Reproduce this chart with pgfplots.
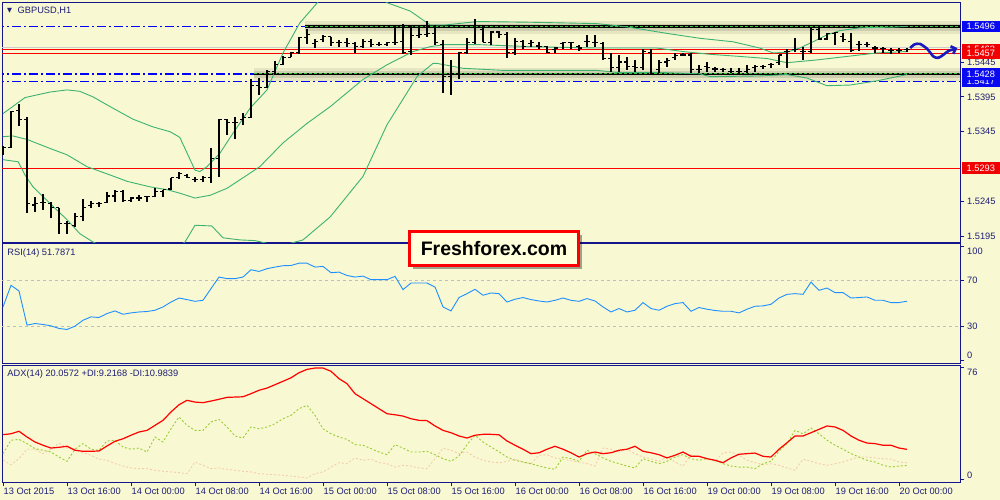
\documentclass[border=0pt]{standalone}
\usepackage{pgfplots}
\pgfplotsset{compat=1.18}
\usepackage{pgfplotstable}
\usepackage{fontspec}
\setmainfont{Liberation Sans}
\newfontfamily\dejavu{DejaVu Sans}
\usetikzlibrary{shadows,arrows.meta}

\definecolor{bg}{RGB}{248,248,210}
\definecolor{frame}{RGB}{20,20,140}
\definecolor{labtxt}{RGB}{30,30,120}
\definecolor{bband}{RGB}{60,179,113}
\definecolor{rsiblue}{RGB}{30,144,255}
\definecolor{plusdi}{RGB}{154,205,50}
\definecolor{minusdi}{RGB}{245,205,170}
\definecolor{lvlblue}{RGB}{0,0,255}
\definecolor{lvlred}{RGB}{255,0,0}
\definecolor{dashgreen}{RGB}{50,205,50}
\definecolor{wave}{RGB}{25,25,190}
\definecolor{boxfill}{RGB}{255,255,220}
\definecolor{pblue}{RGB}{10,10,240}
\definecolor{pred}{RGB}{240,0,0}

\newcommand\mtfont{\fontsize{9.3}{11}\selectfont}

% GBPUSD H1 bars: index, open, high, low, close
\pgfplotstableread{
i o h l c
0 1.5323 1.5325 1.5312 1.5323
1 1.5323 1.5375 1.5322 1.5374
2 1.5375 1.5385 1.5353 1.5363
3 1.5363 1.5366 1.5229 1.5242
4 1.5240 1.5252 1.5230 1.5242
5 1.5244 1.5256 1.5233 1.5243
6 1.5242 1.5244 1.5221 1.5237
7 1.5236 1.5236 1.5199 1.5214
8 1.5214 1.5217 1.5199 1.5214
9 1.5211 1.5229 1.5209 1.5223
10 1.5223 1.5249 1.5217 1.5237
11 1.5239 1.5246 1.5236 1.5242
12 1.5242 1.5244 1.5237 1.5242
13 1.5243 1.5259 1.5243 1.5253
14 1.5253 1.5262 1.5244 1.5260
15 1.5260 1.5262 1.5244 1.5246
16 1.5247 1.5252 1.5244 1.5250
17 1.5250 1.5255 1.5246 1.5250
18 1.5252 1.5253 1.5244 1.5252
19 1.5252 1.5264 1.5252 1.5260
20 1.5260 1.5262 1.5252 1.5262
21 1.5263 1.5279 1.5262 1.5279
22 1.5280 1.5288 1.5277 1.5285
23 1.5282 1.5285 1.5279 1.5280
24 1.5277 1.5280 1.5273 1.5276
25 1.5277 1.5282 1.5273 1.5279
26 1.5279 1.5322 1.5272 1.5307
27 1.5307 1.5363 1.5280 1.5363
28 1.5362 1.5363 1.5341 1.5358
29 1.5358 1.5366 1.5335 1.5358
30 1.5362 1.5372 1.5355 1.5365
31 1.5366 1.5420 1.5365 1.5411
32 1.5411 1.5422 1.5398 1.5408
33 1.5408 1.5434 1.5408 1.5431
34 1.5431 1.5447 1.5427 1.5441
35 1.5441 1.5454 1.5440 1.5451
36 1.5452 1.5460 1.5452 1.5458
37 1.5458 1.5481 1.5457 1.5480
38 1.5480 1.5493 1.5471 1.5484
39 1.5471 1.5478 1.5465 1.5475
40 1.5477 1.5483 1.5473 1.5481
41 1.5481 1.5481 1.5468 1.5473
42 1.5473 1.5477 1.5467 1.5473
43 1.5473 1.5480 1.5467 1.5471
44 1.5471 1.5474 1.5458 1.5467
45 1.5467 1.5478 1.5465 1.5474
46 1.5474 1.5478 1.5467 1.5470
47 1.5470 1.5473 1.5468 1.5470
48 1.5470 1.5474 1.5468 1.5473
49 1.5473 1.5496 1.5470 1.5473
50 1.5474 1.5500 1.5457 1.5458
51 1.5460 1.5496 1.5455 1.5483
52 1.5483 1.5498 1.5480 1.5484
53 1.5484 1.5504 1.5481 1.5486
54 1.5486 1.5498 1.5470 1.5473
55 1.5470 1.5477 1.5401 1.5424
56 1.5424 1.5448 1.5398 1.5429
57 1.5429 1.5460 1.5420 1.5458
58 1.5458 1.5480 1.5457 1.5473
59 1.5473 1.5507 1.5471 1.5494
60 1.5491 1.5496 1.5473 1.5473
61 1.5473 1.5490 1.5470 1.5488
62 1.5488 1.5490 1.5480 1.5484
63 1.5484 1.5488 1.5451 1.5458
64 1.5458 1.5480 1.5455 1.5474
65 1.5474 1.5477 1.5463 1.5467
66 1.5471 1.5477 1.5467 1.5473
67 1.5468 1.5473 1.5464 1.5467
68 1.5467 1.5468 1.5458 1.5458
69 1.5463 1.5467 1.5458 1.5465
70 1.5471 1.5474 1.5463 1.5473
71 1.5473 1.5473 1.5464 1.5473
72 1.5467 1.5470 1.5461 1.5465
73 1.5474 1.5483 1.5467 1.5474
74 1.5473 1.5484 1.5467 1.5473
75 1.5471 1.5473 1.5448 1.5450
76 1.5450 1.5458 1.5431 1.5437
77 1.5437 1.5455 1.5431 1.5445
78 1.5445 1.5452 1.5434 1.5438
79 1.5438 1.5448 1.5431 1.5437
80 1.5437 1.5463 1.5434 1.5460
81 1.5458 1.5463 1.5428 1.5429
82 1.5434 1.5448 1.5429 1.5444
83 1.5445 1.5451 1.5438 1.5447
84 1.5452 1.5458 1.5448 1.5454
85 1.5455 1.5458 1.5454 1.5455
86 1.5455 1.5458 1.5429 1.5434
87 1.5434 1.5441 1.5429 1.5434
88 1.5438 1.5445 1.5431 1.5437
89 1.5435 1.5438 1.5431 1.5435
90 1.5434 1.5437 1.5431 1.5434
91 1.5432 1.5437 1.5429 1.5432
92 1.5431 1.5437 1.5427 1.5431
93 1.5432 1.5440 1.5429 1.5434
94 1.5437 1.5440 1.5431 1.5438
95 1.5438 1.5441 1.5435 1.5438
96 1.5441 1.5444 1.5437 1.5441
97 1.5444 1.5455 1.5441 1.5455
98 1.5460 1.5464 1.5437 1.5460
99 1.5463 1.5480 1.5460 1.5463
100 1.5460 1.5467 1.5448 1.5460
101 1.5460 1.5494 1.5458 1.5491
102 1.5491 1.5496 1.5477 1.5478
103 1.5478 1.5487 1.5477 1.5486
104 1.5486 1.5488 1.5470 1.5487
105 1.5481 1.5487 1.5473 1.5477
106 1.5474 1.5487 1.5460 1.5461
107 1.5470 1.5475 1.5461 1.5470
108 1.5470 1.5473 1.5467 1.5470
109 1.5465 1.5468 1.5458 1.5465
110 1.5464 1.5467 1.5458 1.5464
111 1.5461 1.5465 1.5457 1.5461
112 1.5461 1.5465 1.5458 1.5461
113 1.5463 1.5465 1.5460 1.5463
}\ohlc

\pgfplotsset{
  mt/.style={
    scale only axis, width=958bp,
    xmin=-0.125, xmax=119.625,
    axis line style={draw=frame, line width=1bp},
    ytick pos=right, yticklabel pos=right,
    tick align=outside, major tick length=4bp,
    tick style={draw=frame, line width=0.8bp},
    ticklabel style={font=\mtfont, text=labtxt},
    yticklabel style={anchor=west, inner sep=0pt, xshift=3bp},
    xtick=\empty,
  },
  dashdot/.style={lvlblue, line width=1.3bp, dash pattern=on 9bp off 3bp on 2bp off 3bp},
  ohlcbar/.style={draw=none, mark=none, error bars/error mark=none,
    error bars/error bar style={draw=black, solid, line width=1.1bp}},
}

\begin{document}
\begin{tikzpicture}
\fill[bg] (0,0) rectangle (1000bp,-500bp);

% ---------- price panel ----------
\begin{axis}[mt, at={(2bp,-2bp)}, anchor=north west, height=240bp,
  ymin=1.5187, ymax=1.5531,
  ytick={1.5195,1.5245,1.5345,1.5395,1.5445},
  yticklabels={1.5195,1.5245,1.5345,1.5395,1.5445}]
  % levels
  \addplot[dashdot] coordinates {(-1,1.5496) (121,1.5496)};
  \addplot[dashdot] coordinates {(-1,1.5428) (121,1.5428)};
  \addplot[dashdot] coordinates {(-1,1.5417) (121,1.5417)};
  \addplot[black!20, line width=1.5bp] coordinates {(-1,1.5466) (121,1.5466)};
  \addplot[lvlred, line width=1bp] coordinates {(-1,1.5463) (121,1.5463)};
  \addplot[lvlred, line width=1bp] coordinates {(-1,1.5457) (121,1.5457)};
  \addplot[lvlred, line width=1bp] coordinates {(-1,1.5293) (121,1.5293)};
  % channel lines with shadow
  \addplot[black, opacity=0.07, line width=13bp] coordinates {(37.75,1.54945) (121,1.54945)};
  \addplot[black, opacity=0.10, line width=7bp] coordinates {(37.75,1.54950) (121,1.54950)};
  \addplot[black, line width=2.5bp] coordinates {(37.75,1.5496) (121,1.5496)};
  \addplot[dashgreen, line width=1.2bp, dash pattern=on 3bp off 2bp] coordinates {(37.75,1.5496) (121,1.5496)};
  \addplot[black, opacity=0.07, line width=13bp] coordinates {(31.4,1.54265) (121,1.54265)};
  \addplot[black, opacity=0.10, line width=7bp] coordinates {(31.4,1.54270) (121,1.54270)};
  \addplot[black, line width=2.5bp] coordinates {(31.4,1.5428) (121,1.5428)};
  \addplot[dashgreen, line width=1.2bp, dash pattern=on 3bp off 2bp] coordinates {(31.4,1.5428) (121,1.5428)};
  % Bollinger bands
  \addplot[bband, line width=0.9bp] coordinates {(0,1.5371)(2.75,1.5394)(5.9,1.5402)(8,1.5405)(9.6,1.5403)(11.25,1.5395)(13.4,1.5381)(16.25,1.5363)(18.75,1.5352)(20.9,1.5345)(22.1,1.5337)(24,1.5290)(24.6,1.5288)(25.5,1.5295)(27.1,1.5314)(28.75,1.5343)(30.9,1.5379)(33,1.5405)(35,1.5458)(37.1,1.5501)(39.6,1.5534)(41.5,1.5556)(43.4,1.5563)(45.5,1.5552)(48,1.5530)(50.9,1.5518)(53.4,1.5498)(55.25,1.5498)(59.25,1.5503)(65.9,1.5502)(74.25,1.5500)(76.75,1.5497)(78.75,1.5494)(83,1.5486)(87.1,1.5479)(91.25,1.5474)(94.6,1.5465)(96.25,1.5458)(98,1.5459)(99.6,1.5465)(101.25,1.5474)(103,1.5484)(104.6,1.5490)(107.1,1.5494)(111.25,1.5495)(113,1.5496)};
  \addplot[bband, line width=0.9bp] coordinates {(0,1.5338)(1.25,1.5339)(3,1.5334)(5.9,1.5321)(8,1.5312)(10.5,1.5295)(13.4,1.5283)(15.5,1.5274)(18.4,1.5266)(20.5,1.5262)(22.1,1.5257)(24,1.5250)(25.9,1.5254)(28,1.5264)(29.6,1.5276)(32.1,1.5295)(35,1.5329)(38,1.5357)(40.9,1.5381)(45,1.5420)(48,1.5441)(51.25,1.5460)(53.4,1.5467)(55.25,1.5470)(59.25,1.5470)(65.9,1.5467)(70,1.5466)(74.6,1.5465)(81.75,1.5465)(85,1.5460)(88.4,1.5456)(92.1,1.5453)(95.5,1.5450)(98,1.5444)(101.75,1.5448)(106.25,1.5454)(109.25,1.5458)(113,1.5460)};
  \addplot[bband, line width=0.9bp] coordinates {(0,1.5305)(1.9,1.5302)(2.75,1.5283)(3.75,1.5266)(5.9,1.5242)(8,1.5219)(9.6,1.5199)(11.25,1.5187)(13.4,1.5176)(17.1,1.5164)(20.9,1.5173)(22.75,1.5187)(24,1.5211)(26.1,1.5210)(27.5,1.5193)(29.6,1.5190)(31.5,1.5189)(34.6,1.5181)(37.5,1.5190)(40.9,1.5223)(45,1.5281)(48,1.5355)(51.75,1.5424)(53.75,1.5443)(54.25,1.5443)(57.5,1.5436)(62.5,1.5433)(74.25,1.5433)(76.75,1.5430)(82.1,1.5430)(87.1,1.5428)(88.4,1.5424)(94.6,1.5425)(98,1.5427)(100.5,1.5422)(103,1.5411)(105.9,1.5412)(109.25,1.5418)(113,1.5427)};
  % OHLC bars: high-low, open tick (left), close tick (right)
  \addplot[ohlcbar, error bars/.cd, y dir=plus, y explicit]
    table[x=i, y=l, y error expr=\thisrow{h}-\thisrow{l}] {\ohlc};
  \addplot[ohlcbar, error bars/.cd, x dir=minus, x fixed=0.375]
    table[x=i, y=o] {\ohlc};
  \addplot[ohlcbar, error bars/.cd, x dir=plus, x fixed=0.375]
    table[x=i, y=c] {\ohlc};
  % hand-drawn forecast wave
  \addplot[wave, line width=2.6bp, smooth, -{Straight Barb[length=4bp,width=8bp]}] coordinates {(113.4,1.5465)(113.9,1.5470)(114.6,1.5471)(115.5,1.5464)(116.3,1.5453)(116.9,1.5451)(117.5,1.5455)(118.2,1.5461)(118.8,1.5463)(119.3,1.5465)};
  \coordinate (p5496) at (axis cs:119.625,1.5496);
  \coordinate (p5463) at (axis cs:119.625,1.5463);
  \coordinate (p5457) at (axis cs:119.625,1.5457);
  \coordinate (p5428) at (axis cs:119.625,1.5428);
  \coordinate (p5417) at (axis cs:119.625,1.5417);
  \coordinate (p5293) at (axis cs:119.625,1.5293);
\end{axis}

% ---------- RSI panel ----------
\begin{axis}[mt, at={(2bp,-243.5bp)}, anchor=north west, height=119.5bp,
  ymin=-2.17, ymax=102.2, ytick={0,30,70,100}, yticklabels={{},30,70,{}}]
  \addplot[black!25, line width=0.8bp, dash pattern=on 3bp off 3bp] coordinates {(-1,70) (121,70)};
  \addplot[black!25, line width=0.8bp, dash pattern=on 3bp off 3bp] coordinates {(-1,30) (121,30)};
  \addplot[rsiblue, line width=0.9bp] coordinates {(0,46.8)(1,65.7)(2,60.7)(3,30.9)(4,32.3)(5,31.5)(6,30.3)(7,28.0)(8,27.1)(9,30.0)(10,35.2)(11,38.1)(12,37.6)(13,41.0)(14,43.3)(15,40.4)(16,41.6)(17,42.4)(18,42.8)(19,43.9)(20,46.8)(21,51.1)(22,54.6)(23,53.2)(24,51.7)(25,52.6)(26,62.8)(27,72.9)(28,71.5)(29,71.5)(30,72.9)(31,79.3)(32,77.8)(33,80.2)(34,81.6)(35,82.8)(36,83.0)(37,85.0)(38,85.0)(39,81.6)(40,82.2)(41,76.7)(42,77.2)(43,74.3)(44,72.9)(45,73.7)(46,70.6)(47,70.6)(48,70.6)(49,73.5)(50,61.9)(51,67.7)(52,67.7)(53,67.7)(54,64.2)(55,46.8)(56,43.3)(57,55.0)(58,58.4)(59,62.2)(60,57.0)(61,59.0)(62,58.4)(63,51.1)(64,53.5)(65,55.0)(66,53.2)(67,52.0)(68,51.1)(69,52.6)(70,54.6)(71,52.6)(72,51.7)(73,54.1)(74,52.0)(75,46.8)(76,42.4)(77,45.4)(78,42.4)(79,43.9)(80,50.6)(81,45.4)(82,43.9)(83,47.4)(84,49.7)(85,50.6)(86,43.0)(87,46.3)(88,44.8)(89,43.7)(90,43.0)(91,43.0)(92,41.6)(93,44.8)(94,47.4)(95,47.7)(96,49.1)(97,54.6)(98,57.8)(99,58.4)(100,57.8)(101,68.5)(102,61.3)(103,63.3)(104,59.3)(105,59.3)(106,54.6)(107,55.0)(108,55.5)(109,52.6)(110,52.6)(111,50.6)(112,50.6)(113,51.8)};
  \coordinate (r100) at (axis cs:119.625,100);
  \coordinate (r0) at (axis cs:119.625,0);
\end{axis}

% ---------- ADX panel ----------
\begin{axis}[mt, at={(2bp,-365bp)}, anchor=north west, height=117bp,
  ymin=-2.04, ymax=77.36, ytick={0,76}, yticklabels={{},{}},
  xtick={0,8,...,112}, xtick pos=bottom, xticklabel pos=bottom,
  xticklabels={13 Oct 2015,13 Oct 16:00,14 Oct 00:00,14 Oct 08:00,14 Oct 16:00,15 Oct 00:00,15 Oct 08:00,15 Oct 16:00,16 Oct 00:00,16 Oct 08:00,16 Oct 16:00,19 Oct 00:00,19 Oct 08:00,19 Oct 16:00,20 Oct 00:00},
  xticklabel style={anchor=north west, inner sep=0pt, xshift=0.5bp, yshift=-1.5bp}]
  \addplot[minusdi, line width=0.9bp, dash pattern=on 2bp off 2bp] coordinates {(0,12.7)(1,9.7)(2,13.8)(3,20.2)(4,20.2)(5,17.2)(6,20.2)(7,24.4)(8,21.0)(9,20.2)(10,17.8)(11,16.1)(12,13.4)(13,12.7)(14,10.4)(15,8.8)(16,7.5)(17,7.0)(18,7.0)(19,5.9)(20,5.2)(21,4.8)(22,4.3)(23,3.6)(24,11.5)(25,9.3)(26,7.0)(27,7.5)(28,6.6)(29,5.9)(30,5.2)(31,4.8)(32,3.6)(33,3.2)(34,2.9)(35,2.5)(36,2.0)(37,1.4)(38,0.7)(39,3.6)(40,4.8)(41,8.1)(42,11.1)(43,10.4)(44,14.3)(45,12.7)(46,13.4)(47,11.1)(48,10.4)(49,8.1)(50,9.3)(51,8.8)(52,7.5)(53,7.0)(54,13.8)(55,21.0)(56,19.5)(57,17.2)(58,18.3)(59,14.9)(60,12.7)(61,11.5)(62,11.0)(63,12.0)(64,13.4)(65,11.5)(66,10.4)(67,16.1)(68,16.5)(69,14.3)(70,13.4)(71,12.4)(72,11.5)(73,10.4)(74,8.8)(75,21.0)(76,20.2)(77,18.3)(78,20.2)(79,17.2)(80,14.9)(81,13.8)(82,12.0)(83,14.9)(84,11.5)(85,8.8)(86,16.5)(87,14.9)(88,13.8)(89,12.0)(90,17.8)(91,18.3)(92,16.1)(93,12.7)(94,11.1)(95,9.7)(96,10.4)(97,9.3)(98,7.5)(99,5.9)(100,13.4)(101,12.0)(102,10.4)(103,9.3)(104,10.4)(105,11.5)(106,13.4)(107,14.9)(108,14.9)(109,14.3)(110,13.8)(111,13.4)(112,11.5)(113,11.0)};
  \addplot[plusdi, line width=0.9bp, dash pattern=on 2bp off 2bp] coordinates {(0,17.2)(1,26.3)(2,26.9)(3,24.0)(4,20.6)(5,19.5)(6,18.3)(7,14.9)(8,12.0)(9,20.2)(10,24.0)(11,20.2)(12,19.5)(13,25.8)(14,26.3)(15,21.7)(16,20.2)(17,21.0)(18,18.3)(19,28.5)(20,25.1)(21,34.1)(22,42.1)(23,36.4)(24,33.0)(25,33.0)(26,38.7)(27,40.5)(28,35.3)(29,29.2)(30,27.8)(31,35.3)(32,34.1)(33,35.3)(34,37.5)(35,40.9)(36,43.2)(37,47.7)(38,50.0)(39,43.2)(40,34.1)(41,30.7)(42,28.5)(43,26.9)(44,23.3)(45,22.9)(46,20.6)(47,18.3)(48,16.5)(49,23.3)(50,21.0)(51,18.3)(52,18.3)(53,18.8)(54,16.5)(55,13.8)(56,12.0)(57,15.6)(58,23.3)(59,29.7)(60,25.1)(61,21.7)(62,18.5)(63,14.9)(64,12.7)(65,11.5)(66,10.4)(67,8.8)(68,7.5)(69,6.6)(70,14.9)(71,13.8)(72,12.0)(73,19.5)(74,17.2)(75,14.3)(76,12.0)(77,10.4)(78,8.8)(79,7.5)(80,13.8)(81,12.0)(82,10.4)(83,12.0)(84,14.9)(85,16.5)(86,13.8)(87,12.7)(88,13.8)(89,12.7)(90,10.4)(91,8.8)(92,8.1)(93,8.1)(94,7.0)(95,10.4)(96,12.0)(97,18.8)(98,24.0)(99,33.0)(100,30.7)(101,34.6)(102,30.7)(103,26.3)(104,22.9)(105,20.2)(106,17.2)(107,14.9)(108,12.7)(109,11.5)(110,9.3)(111,8.1)(112,8.8)(113,9.2)};
  \addplot[lvlred, line width=1.2bp] coordinates {(0,30.1)(1,30.7)(2,32.4)(3,28.5)(4,25.1)(5,22.9)(6,21.0)(7,21.5)(8,22.2)(9,19.5)(10,18.8)(11,18.8)(12,19.0)(13,22.4)(14,25.6)(15,27.3)(16,29.7)(17,31.9)(18,33.0)(19,36.4)(20,39.8)(21,45.5)(22,50.4)(23,53.4)(24,52.2)(25,51.8)(26,52.9)(27,54.1)(28,55.4)(29,55.6)(30,55.8)(31,57.9)(32,60.2)(33,61.7)(34,64.0)(35,66.3)(36,68.7)(37,72.1)(38,74.4)(39,75.3)(40,75.3)(41,73.1)(42,68.1)(43,64.7)(44,57.9)(45,54.5)(46,51.1)(47,47.7)(48,44.3)(49,43.6)(50,42.7)(51,40.9)(52,39.8)(53,39.6)(54,36.0)(55,33.0)(56,31.4)(57,29.2)(58,27.8)(59,29.7)(60,30.3)(61,30.3)(62,30.0)(63,25.8)(64,22.9)(65,20.2)(66,17.2)(67,17.8)(68,20.2)(69,22.2)(70,20.2)(71,17.8)(72,14.9)(73,17.2)(74,18.3)(75,17.2)(76,17.8)(77,19.5)(78,20.2)(79,22.2)(80,18.8)(81,17.8)(82,16.5)(83,14.3)(84,16.1)(85,18.3)(86,15.4)(87,15.4)(88,13.8)(89,12.7)(90,11.1)(91,14.3)(92,16.8)(93,17.2)(94,17.6)(95,15.4)(96,14.9)(97,20.2)(98,24.6)(99,29.2)(100,29.2)(101,31.4)(102,33.7)(103,36.0)(104,35.3)(105,33.0)(106,29.2)(107,26.3)(108,24.4)(109,24.0)(110,22.9)(111,22.9)(112,21.0)(113,20.1)};
  \coordinate (a76) at (axis cs:119.625,76);
  \coordinate (a0) at (axis cs:119.625,0);
\end{axis}

% ---------- texts ----------
\tikzset{ttl/.style={anchor=west, inner sep=0pt, font=\mtfont, text=labtxt},
  pbox/.style={anchor=west, xshift=1.5bp, inner xsep=5bp, inner ysep=0pt, minimum height=11.5bp,
    text height=6.7bp, text depth=0pt, text=white, font=\mtfont}}
\node[inner sep=0pt, text=labtxt, font=\dejavu\fontsize{6.5}{7}\selectfont] at (9.5bp,-11bp) {▼};
\node[ttl] at (17.5bp,-10.7bp) {GBPUSD,H1};
\node[ttl] at (7.3bp,-252.7bp) {RSI(14) 51.7871};
\node[ttl] at (7.3bp,-373.7bp) {ADX(14) 20.0572 +DI:9.2168 -DI:10.9839};
\node[ttl, xshift=7bp, yshift=-5.2bp] at (r100) {100};
\node[ttl, xshift=7bp, yshift=4.8bp] at (r0) {0};
\node[ttl, xshift=7bp, yshift=-5bp] at (a76) {76};
\node[ttl, xshift=7bp, yshift=3.7bp] at (a0) {0};
\node[pbox, fill=pblue] at (p5417) {1.5417};
\node[pbox, fill=pblue] at (p5428) {1.5428};
\node[pbox, fill=pred] at (p5463) {1.5463};
\node[pbox, fill=pred] at (p5457) {1.5457};
\node[pbox, fill=pblue] at (p5496) {1.5496};
\node[pbox, fill=pred] at (p5293) {1.5293};

\node[draw=lvlred, line width=3bp, fill=boxfill, minimum width=169bp, minimum height=34bp, inner sep=0pt,
  font=\bfseries\fontsize{19.6}{22}\selectfont,
  drop shadow={shadow xshift=3bp, shadow yshift=-3bp, fill=black, opacity=0.35}]
  at (494bp,-248.5bp) {Freshforex.com};

\pgfresetboundingbox
\useasboundingbox (0,0) rectangle (1000bp,-500bp);
\end{tikzpicture}
\end{document}
